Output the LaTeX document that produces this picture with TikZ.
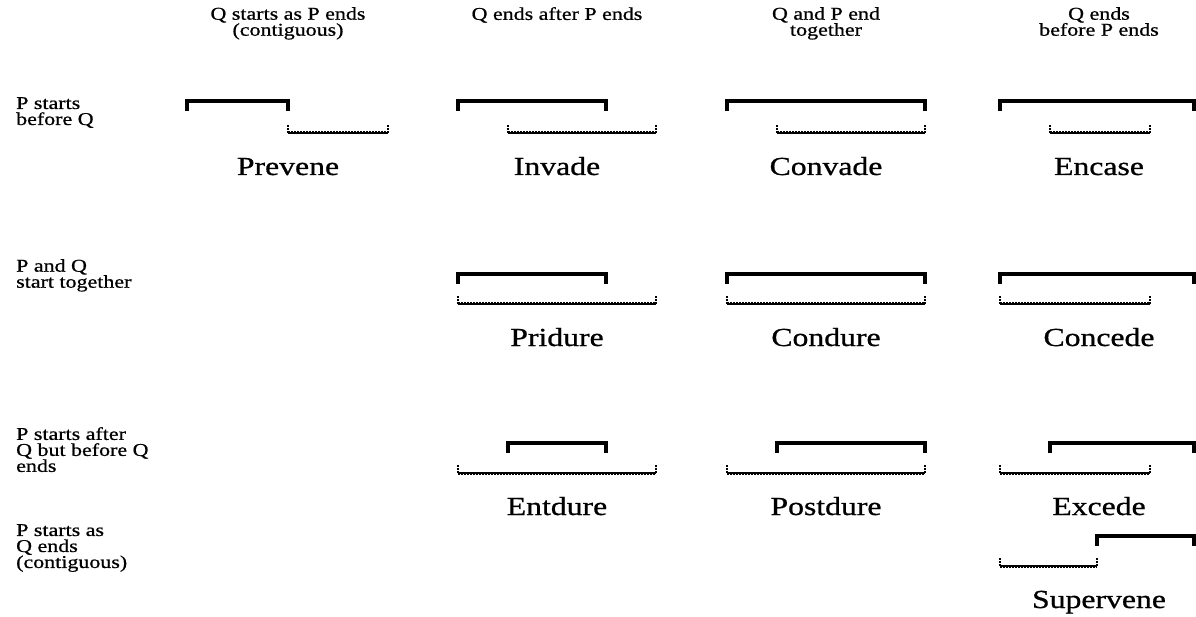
\documentclass[tikz,border=0pt]{standalone}
\usepackage{fontspec}
\setmainfont{Liberation Serif}[FakeStretch=1.22,FakeBold=0.8]
\tikzset{
  pbar/.style={line width=3.4pt, line cap=butt, line join=miter},
  qcore/.style={line width=2pt, line cap=butt},
  qtex/.style={line width=3pt, dash pattern=on 1.5pt off 1.5pt},
  qtick/.style={line width=2.4pt, dash pattern=on 2pt off 1.2pt},
  hdr/.style={font=\fontsize{18}{16}\selectfont, align=center, inner sep=0pt, anchor=north},
  rowlab/.style={font=\fontsize{18}{16}\selectfont, align=left, inner sep=0pt, anchor=north west},
  relname/.style={font=\fontsize{26}{26}\selectfont, inner sep=0pt, anchor=base},
}
\newcommand\PBar[3]{\draw[pbar] (#1,#3+10) -- (#1,#3) -- (#2,#3) -- (#2,#3+10);}
\newcommand\QBar[3]{\draw[qcore] (#1,#3) -- (#2,#3);
  \draw[qtex] (#1,#3) -- (#2,#3);
  \draw[qtick] (#1,#3) -- (#1,#3-9);
  \draw[qtick] (#2,#3) -- (#2,#3-9);}
\begin{document}
\begin{tikzpicture}[x=1pt,y=-1pt]
\useasboundingbox (0,0) rectangle (1196,617);
% column headers
\node[hdr] (h1) at (288,7) {Q starts as P ends\\(contiguous)};
\node[hdr] (h2) at (557,7) {Q ends after P ends};
\node[hdr] (h3) at (826,7) {Q and P end\\together};
\node[hdr] (h4) at (1099,7) {Q ends\\before P ends};
% row labels
\node[rowlab] (r1) at (16,97) {P starts\\before Q};
\node[rowlab] (r2) at (16,259) {P and Q\\start together};
\node[rowlab] (r3) at (16,427) {P starts after\\Q but before Q\\ends};
\node[rowlab] (r4) at (16,524) {P starts as\\Q ends\\(contiguous)};
% row 1
\PBar{187}{288}{101} \QBar{288}{388}{133}
\node[relname] (prevene) at (288,175) {Prevene};
\PBar{458}{606}{101} \QBar{508}{656}{133}
\node[relname] (invade) at (557,175) {Invade};
\PBar{727}{925}{101} \QBar{777}{925}{133}
\node[relname] (convade) at (826,175) {Convade};
\PBar{1000}{1194}{101} \QBar{1050}{1150}{133}
\node[relname] (encase) at (1099,175) {Encase};
% row 2
\PBar{458}{606}{274} \QBar{458}{656}{304}
\node[relname] (pridure) at (557,346) {Pridure};
\PBar{727}{925}{274} \QBar{727}{925}{304}
\node[relname] (condure) at (826,346) {Condure};
\PBar{1000}{1194}{274} \QBar{1000}{1150}{304}
\node[relname] (concede) at (1099,346) {Concede};
% row 3
\PBar{508}{606}{443} \QBar{458}{656}{473}
\node[relname] (entdure) at (557,515) {Entdure};
\PBar{777}{925}{443} \QBar{727}{925}{473}
\node[relname] (postdure) at (826,515) {Postdure};
\PBar{1050}{1194}{443} \QBar{1000}{1150}{473}
\node[relname] (excede) at (1099,515) {Excede};
% row 4
\PBar{1097}{1194}{536} \QBar{1000}{1097}{566}
\node[relname] (supervene) at (1099,608) {Supervene};
\end{tikzpicture}
\end{document}
